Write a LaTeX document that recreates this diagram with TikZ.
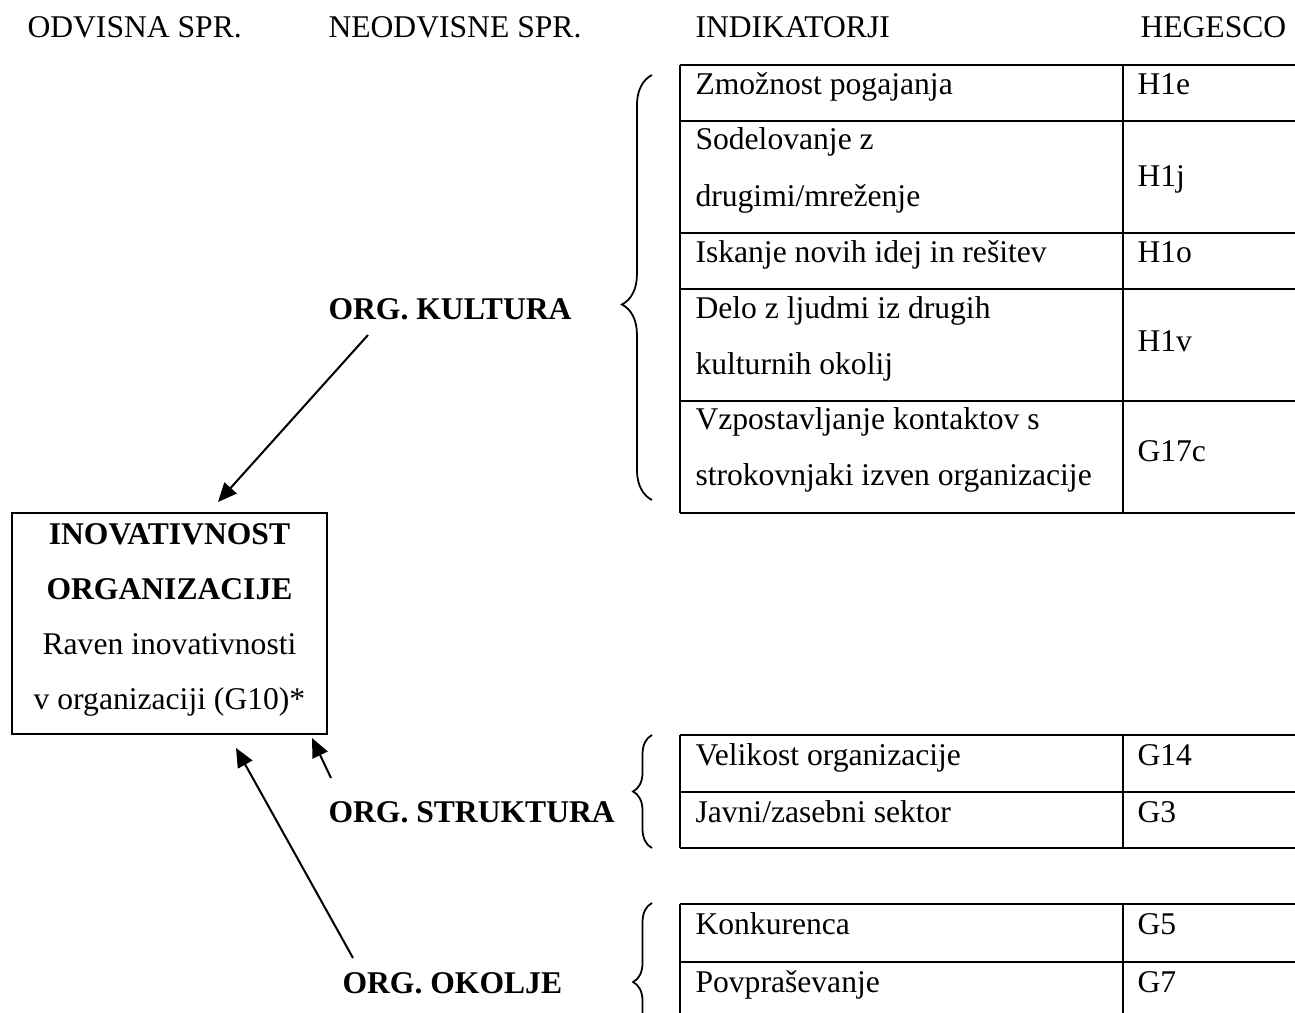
\documentclass[tikz,border=0pt]{standalone}
\usepackage{fontspec}
\setmainfont{Liberation Serif}
\usetikzlibrary{arrows.meta,decorations.pathreplacing}

\tikzset{
  txt/.style={anchor=base west, inner sep=0pt, font=\fontsize{12.5}{15}\selectfont},
  lbl/.style={txt, font=\fontsize{12.5}{15}\selectfont\bfseries},
  tbl/.style={line width=1pt},
  box/.style={draw, line width=1pt, inner sep=0pt, minimum width=124.6pt, minimum height=87.4pt},
  brc/.style={decorate, decoration={brace, amplitude=#1}, line width=0.7pt},
  arr/.style={line width=0.8pt, -{Triangle[length=7.5pt,width=6.5pt]}}
}

\begin{document}
\begin{tikzpicture}[x=0.3954pt,y=-0.3954pt]
      \useasboundingbox (0,0) rectangle (1295,1013);
      \clip (0,0) rectangle (1295,1013);

      % headers
      \node[txt] (odv) at (27,38) {ODVISNA SPR.};
      \node[txt] (neodv) at (328,38) {NEODVISNE SPR.};
      \node[txt] (ind) at (695,38) {INDIKATORJI};
      \node[txt] (heg) at (1140,38) {HEGESCO};

      % dependent variable
      \node[box] (inov) at (169.5,623.5) {};
      \node[lbl,anchor=base] (inov1) at (169.5,545) {INOVATIVNOST};
      \node[lbl,anchor=base] (inov2) at (169.5,600) {ORGANIZACIJE};
      \node[txt,anchor=base] (inov3) at (169.5,655) {Raven inovativnosti};
      \node[txt,anchor=base] (inov4) at (169.5,710) {v organizaciji (G10)*};

      % independent variables
      \node[lbl] (kultura) at (328,320) {ORG. KULTURA};
      \node[lbl] (struktura) at (328,822) {ORG. STRUKTURA};
      \node[lbl] (okolje) at (342,993) {ORG. OKOLJE};

      \coordinate (k1) at (368,335);
      \coordinate (k2) at (218,502);
      \coordinate (s1) at (331,778);
      \coordinate (s2) at (312,738);
      \coordinate (o1) at (353,958);
      \coordinate (o2) at (236,748);

      \draw[arr] (k1) -- (k2);
      \draw[arr] (s1) -- (s2);
      \draw[arr] (o1) -- (o2);

      % braces
      \draw[brc=11.9pt,decoration={aspect=0.46}] (652,500) -- (652,75);
      \draw[brc=7.5pt] (652,848) -- (652,735);
      \draw[brc=7.5pt] (652,1061) -- (652,903);

      % table kultura
      \foreach \y in {65,121,233,289,401,513}
        \draw[tbl] (680,\y) -- (1300,\y);
      \draw[tbl] (680,65) -- (680,513);
      \draw[tbl] (1123,65) -- (1123,513);

      \node[txt] (c1) at (695,95) {Zmožnost pogajanja};
      \node[txt] (c2a) at (695,150) {Sodelovanje z};
      \node[txt] (c2b) at (695,207) {drugimi/mreženje};
      \node[txt] (c3) at (695,263) {Iskanje novih idej in rešitev};
      \node[txt] (c4a) at (695,319) {Delo z ljudmi iz drugih};
      \node[txt] (c4b) at (695,375) {kulturnih okolij};
      \node[txt] (c5a) at (695,430) {Vzpostavljanje kontaktov s};
      \node[txt] (c5b) at (695,486) {strokovnjaki izven organizacije};

      \node[txt] (h1e) at (1137,95) {H1e};
      \node[txt] (h1j) at (1137,187) {H1j};
      \node[txt] (h1o) at (1137,263) {H1o};
      \node[txt] (h1v) at (1137,352) {H1v};
      \node[txt] (g17c) at (1137,462) {G17c};

      % table struktura
      \foreach \y in {735,792,848}
        \draw[tbl] (680,\y) -- (1300,\y);
      \draw[tbl] (680,735) -- (680,848);
      \draw[tbl] (1123,735) -- (1123,848);

      \node[txt] (s1t) at (695,765) {Velikost organizacije};
      \node[txt] (s2t) at (695,822) {Javni/zasebni sektor};
      \node[txt] (g14) at (1137,765) {G14};
      \node[txt] (g3) at (1137,822) {G3};

      % table okolje
      \foreach \y in {904,962,1020}
        \draw[tbl] (680,\y) -- (1300,\y);
      \draw[tbl] (680,904) -- (680,1020);
      \draw[tbl] (1123,904) -- (1123,1020);

      \node[txt] (o1t) at (695,934) {Konkurenca};
      \node[txt] (o2t) at (695,992) {Povpraševanje};
      \node[txt] (g5) at (1137,934) {G5};
      \node[txt] (g7) at (1137,992) {G7};
\end{tikzpicture}
\end{document}
